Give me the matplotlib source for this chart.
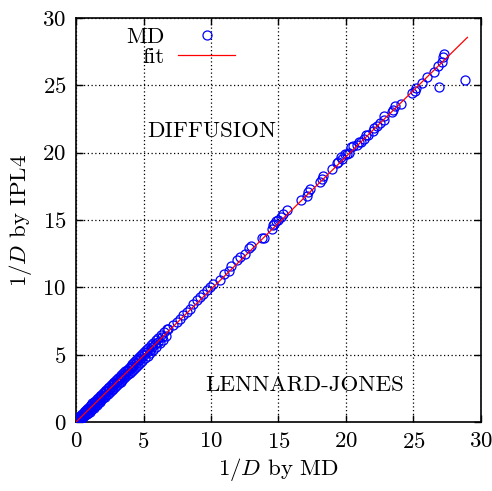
import numpy as np
import matplotlib
matplotlib.use("Agg")
import matplotlib.pyplot as plt

plt.rcParams['font.family'] = ['cmr10', 'DejaVu Serif']
plt.rcParams['mathtext.fontset'] = 'cm'
plt.rcParams['axes.formatter.use_mathtext'] = True

# dense band near origin (three overlapping rows)
md_a = [0.02, 0.06, 0.1, 0.15, 0.2, 0.26, 0.33, 0.4, 0.48, 0.56, 0.65, 0.74, 0.83, 0.92, 1.02, 1.12,
        1.22, 1.32, 1.43, 1.54, 1.65, 1.76, 1.88, 2.0, 2.12, 2.24, 2.36, 2.48, 2.6, 2.72, 2.85, 2.98,
        3.1, 3.23, 3.36, 3.5, 3.63, 3.76, 3.9, 4.04, 4.18, 4.32, 4.46, 4.6, 4.75, 4.9, 5.05, 5.2,
        5.36, 5.55, 5.72, 5.9, 6.1, 6.3, 6.5, 6.75]
ipl_a = [0.12, 0.17, 0.22, 0.28, 0.33, 0.4, 0.48, 0.55, 0.63, 0.71, 0.8, 0.89, 0.98, 1.07, 1.17, 1.27,
         1.38, 1.48, 1.59, 1.7, 1.81, 1.92, 2.04, 2.16, 2.27, 2.39, 2.51, 2.63, 2.75, 2.87, 2.99, 3.12,
         3.24, 3.37, 3.49, 3.63, 3.76, 3.89, 4.03, 4.17, 4.31, 4.44, 4.59, 4.73, 4.88, 5.03, 5.18, 5.35,
         5.51, 5.71, 5.89, 6.06, 6.26, 6.43, 6.66, 6.92]
md_b = [0.0, 0.04, 0.08, 0.13, 0.18, 0.24, 0.3, 0.37, 0.45, 0.53, 0.62, 0.7, 0.8, 0.9, 1.0, 1.1,
        1.2, 1.3, 1.42, 1.53, 1.64, 1.76, 1.88, 2.0, 2.12, 2.25, 2.38, 2.5, 2.63, 2.76, 2.9, 3.03,
        3.16, 3.3, 3.44, 3.58, 3.72, 3.86, 4.0, 4.15, 4.3, 4.45, 4.6, 4.76, 4.92, 5.1, 5.3, 5.5,
        5.7, 5.95, 6.2, 6.45, 6.7]
ipl_b = [0.0, 0.0, 0.0, 0.01, 0.04, 0.09, 0.14, 0.2, 0.27, 0.34, 0.42, 0.5, 0.59, 0.68, 0.78, 0.88,
         0.97, 1.07, 1.18, 1.29, 1.4, 1.51, 1.63, 1.75, 1.86, 1.99, 2.11, 2.23, 2.36, 2.48, 2.62, 2.74,
         2.87, 3.0, 3.13, 3.27, 3.4, 3.54, 3.67, 3.82, 3.96, 4.1, 4.25, 4.4, 4.55, 4.75, 4.92, 5.12,
         5.35, 5.6, 5.88, 6.1, 6.4]
md_c = [0.01, 0.1, 0.22, 0.35, 0.5, 0.66, 0.82, 0.98, 1.15, 1.32, 1.5, 1.68, 1.86, 2.05, 2.25, 2.45,
        2.65, 2.85, 3.05, 3.25, 3.45, 3.65, 3.85, 4.05, 4.25, 4.45, 4.65, 4.85, 5.05, 5.25, 5.45, 5.65,
        5.85, 6.05, 6.4]
ipl_c = [0.02, 0.09, 0.21, 0.34, 0.49, 0.65, 0.81, 0.97, 1.13, 1.3, 1.48, 1.66, 1.83, 2.02, 2.21, 2.41,
         2.61, 2.8, 3.0, 3.2, 3.4, 3.6, 3.8, 3.99, 4.19, 4.38, 4.58, 4.78, 4.98, 5.18, 5.37, 5.57,
         5.76, 5.96, 6.3]

# sparser points further up
md_hi = [6.84, 7.21, 7.46, 7.7, 7.95, 8.2, 8.44, 8.69, 8.94, 9.19, 9.43, 9.68, 9.93, 10.17, 10.67,
         11.0, 11.3, 11.5, 11.95, 12.15, 12.5, 12.8, 13.0, 13.75, 13.9,
         14.5, 14.6, 14.7, 14.85, 15.0, 15.2, 15.35, 15.65,
         16.7, 17.1, 17.2, 17.3, 18.1, 18.2, 18.3, 19.0,
         19.3, 19.4, 19.6, 19.7, 19.9, 20.05, 20.2, 20.4, 20.5, 20.8, 21.0, 21.1, 21.3, 21.5, 21.65,
         22.0, 22.1, 22.3, 22.5, 22.8, 22.8, 23.4, 23.5, 23.6, 24.05,
         24.9, 25.1, 25.2, 25.6, 26.0, 26.5, 26.8, 27.1, 27.2, 27.3,
         26.9, 28.8]
ipl_hi = [6.94, 7.19, 7.43, 7.68, 7.93, 8.17, 8.42, 8.79, 9.04, 9.28, 9.53, 9.78, 10.02, 10.27, 10.57,
          11.0, 11.25, 11.6, 12.0, 12.25, 12.5, 12.9, 13.1, 13.7, 13.7,
          14.35, 14.6, 14.7, 14.96, 15.0, 15.2, 15.45, 15.75,
          16.5, 16.8, 17.05, 17.3, 17.8, 18.05, 18.3, 18.8,
          19.2, 19.3, 19.65, 19.5, 19.9, 19.9, 20.0, 20.4, 20.5, 20.6, 20.8, 20.8, 21.0, 21.3, 21.3,
          21.6, 21.8, 22.0, 22.2, 22.4, 22.7, 23.0, 23.2, 23.5, 23.65,
          24.4, 24.6, 24.8, 25.2, 25.6, 26.0, 26.4, 26.7, 27.1, 27.36,
          24.9, 25.4]

md = md_a + md_b + md_c + md_hi
ipl = ipl_a + ipl_b + ipl_c + ipl_hi

fit_slope = 0.985
fit_range = [0.0, 29.0]

fig = plt.figure(figsize=(4.92, 4.91), dpi=100)
ax = fig.add_axes([0.1545, 0.1405, 0.823, 0.8228])

ax.plot(md, ipl, linestyle='none', marker='o', markersize=6.5, markerfacecolor='none',
        markeredgecolor='#0000ff', markeredgewidth=0.9, label='MD', zorder=3)
fx = np.array(fit_range)
ax.plot(fx, fit_slope * fx, color='#ff0000', lw=0.9, label='fit', zorder=4)

ax.set_xlim(0, 30)
ax.set_ylim(0, 30)
ax.set_xticks(range(0, 31, 5))
ax.set_yticks(range(0, 31, 5))
ax.grid(True, color='black', linestyle=(0, (1, 2)), linewidth=0.9)
ax.tick_params(direction='in', top=True, right=True, length=5, width=1,
               labelsize=16.5, pad=7)
for s in ax.spines.values():
    s.set_linewidth(1.2)

ax.set_xlabel(r'$1/D$ by MD', fontsize=16.5, labelpad=3)
ax.set_ylabel(r'$1/D$ by IPL4', fontsize=16.5, labelpad=6)

ax.text(5.26, 21.6, 'DIFFUSION', fontsize=16.5, va='center', ha='left')
ax.text(9.55, 2.74, 'LENNARD-JONES', fontsize=16.5, va='center', ha='left')

leg = ax.legend(loc='upper left', bbox_to_anchor=(0.095, 1.006), frameon=False,
                markerfirst=False, numpoints=1, handlelength=2.5, handletextpad=0.6,
                labelspacing=0.0, borderpad=0, fontsize=16.5)

fig.savefig('out.png', dpi=100)
